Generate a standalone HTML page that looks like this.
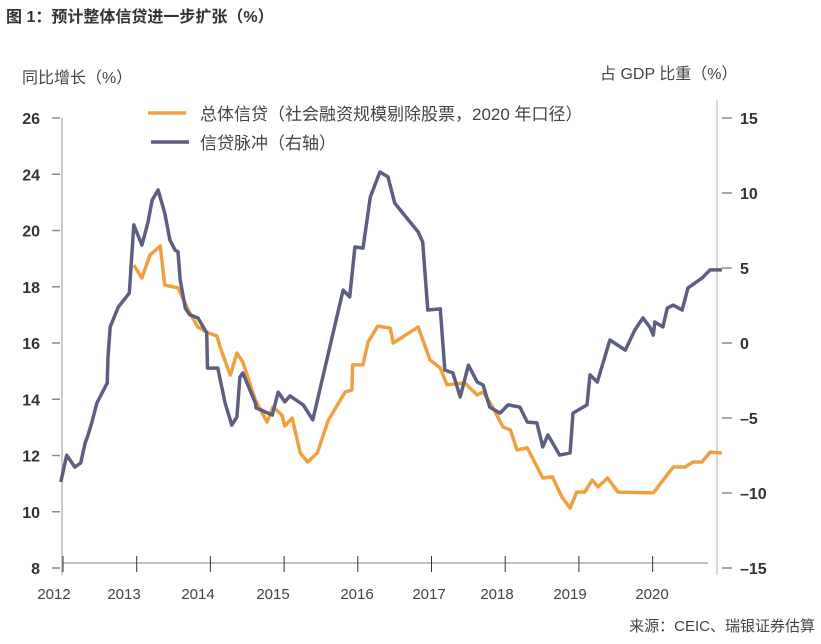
<!DOCTYPE html>
<html><head><meta charset="utf-8"><style>
body{margin:0;background:#fff;}
svg text{font-family:"Liberation Sans","Noto Sans CJK SC",sans-serif;}
</style></head><body>
<svg id="chart" width="821" height="639" viewBox="0 0 821 639" xmlns="http://www.w3.org/2000/svg">
<text x="6" y="22" font-size="16" font-weight="bold" fill="#333">图 1：预计整体信贷进一步扩张（%）</text>
<text x="22" y="83" font-size="16" fill="#444">同比增长（%）</text>
<text x="600" y="79" font-size="16" fill="#444">占 GDP 比重（%）</text>
<g>
<line x1="148" y1="113" x2="186" y2="113" stroke="#f0a040" stroke-width="3.5"/>
<text x="200" y="120" font-size="17" fill="#444">总体信贷（社会融资规模剔除股票，2020 年口径）</text>
<line x1="151" y1="142" x2="189" y2="142" stroke="#5c5f80" stroke-width="3.5"/>
<text x="200" y="149" font-size="17" fill="#444">信贷脉冲（右轴）</text>
</g>
<line x1="62" y1="118" x2="62" y2="575" stroke="#bbb" stroke-width="1.5"/>
<line x1="717" y1="100" x2="717" y2="575" stroke="#ccc" stroke-width="1.5"/>
<line x1="62" y1="563" x2="708" y2="563" stroke="#aaa" stroke-width="1.5"/>
<text x="815" y="631" font-size="15" fill="#444" text-anchor="end">来源：CEIC、瑞银证券估算</text>
<g id="axes"></g>
<g id="series"></g>
</svg>
<script>
const leftTicks = [8, 10, 12, 14, 16, 18, 20, 24, 26];
const rightTicks = [-15, -10, -5, 0, 5, 10, 15];
const years = [2012, 2013, 2014, 2015, 2016, 2017, 2018, 2019, 2020];
const totalCreditDates = [2012.96,2013.07,2013.18,2013.32,2013.38,2013.56,2013.70,2013.83,2013.97,2014.09,2014.13,2014.27,2014.36,2014.44,2014.61,2014.77,2014.85,2014.97,2015.01,2015.11,2015.22,2015.32,2015.45,2015.60,2015.83,2015.92,2015.93,2016.07,2016.14,2016.27,2016.44,2016.48,2016.82,2016.98,2017.12,2017.21,2017.45,2017.62,2017.70,2017.83,2017.97,2018.07,2018.16,2018.30,2018.51,2018.64,2018.77,2018.88,2018.97,2019.08,2019.18,2019.26,2019.39,2019.53,2020.01,2020.28,2020.44,2020.55,2020.67,2020.78,2020.94];
const totalCreditValues = [18.77,18.31,19.13,19.45,18.06,17.96,17.17,16.57,16.36,16.25,15.86,14.86,15.64,15.32,13.97,13.19,13.72,13.44,13.05,13.33,12.09,11.77,12.09,13.26,14.26,14.33,15.22,15.22,16.04,16.6,16.53,16.0,16.57,15.4,15.11,14.51,14.58,14.15,14.26,13.72,13.01,12.91,12.2,12.27,11.2,11.24,10.52,10.13,10.7,10.7,11.13,10.88,11.2,10.7,10.67,11.59,11.59,11.77,11.77,12.12,12.09];
const impulseDates = [2011.97,2012.05,2012.16,2012.24,2012.30,2012.34,2012.39,2012.46,2012.60,2012.61,2012.64,2012.75,2012.90,2012.96,2013.07,2013.15,2013.21,2013.29,2013.38,2013.45,2013.52,2013.56,2013.59,2013.66,2013.72,2013.83,2013.95,2013.96,2014.10,2014.20,2014.29,2014.36,2014.40,2014.44,2014.61,2014.62,2014.84,2014.92,2015.01,2015.08,2015.26,2015.39,2015.80,2015.89,2015.96,2016.07,2016.17,2016.30,2016.41,2016.50,2016.82,2016.88,2016.95,2017.12,2017.18,2017.29,2017.39,2017.50,2017.62,2017.70,2017.79,2017.93,2018.04,2018.20,2018.30,2018.43,2018.51,2018.58,2018.74,2018.88,2018.92,2019.11,2019.15,2019.25,2019.42,2019.63,2019.76,2019.87,2019.96,2020.01,2020.03,2020.14,2020.20,2020.28,2020.40,2020.48,2020.67,2020.78,2020.94];
const impulseValues = [-9.27,-7.47,-8.27,-8.0,-6.67,-6.13,-5.33,-4.0,-2.67,-0.93,1.07,2.4,3.33,7.87,6.53,8.0,9.53,10.2,8.67,6.87,6.2,6.07,4.2,2.33,1.87,1.67,0.67,-1.67,-1.67,-4.0,-5.47,-4.93,-2.27,-2.0,-4.0,-4.33,-4.8,-3.27,-3.93,-3.53,-4.13,-5.13,3.53,3.07,6.4,6.33,9.73,11.4,11.07,9.33,7.4,6.73,2.2,2.27,-1.8,-2.0,-3.6,-1.47,-2.6,-2.8,-4.27,-4.67,-4.13,-4.27,-5.27,-5.33,-6.93,-6.13,-7.47,-7.33,-4.67,-4.13,-2.13,-2.6,0.2,-0.47,0.87,1.67,1.07,0.53,1.4,1.07,2.33,2.53,2.2,3.67,4.33,4.87,4.87];

const NS = 'http://www.w3.org/2000/svg';
function xScale(t){ return 63 + (t - 2012) * 73.7; }
function yLeft(v){ return 568 - (v - 8) * 28.125; }
function yLeftTick(i){ return 568 - i * 56.25; }
function yRight(v){ return 343 - v * 15; }
function mk(tag, attrs, parent){ const e = document.createElementNS(NS, tag); for (const k in attrs) e.setAttribute(k, attrs[k]); parent.appendChild(e); return e; }
const axes = document.getElementById('axes');
const series = document.getElementById('series');
const yearLabelX = [54,124,198,273,357,429,497,570,652];

leftTicks.forEach((v, i) => {
  const y = yLeftTick(i);
  const tk = mk('line', {x1:52, y1:y, x2:60, y2:y, stroke:'#888', 'stroke-width':1.5}, axes);
  
  
  const tx = mk('text', {x:40, y:y+6, 'font-size':16, 'font-weight':'bold', fill:'#333', 'text-anchor':'end'}, axes);
  tx.textContent = v;
  
  
});
rightTicks.forEach(v => {
  const y = yRight(v);
  const tk = mk('line', {x1:722, y1:y, x2:732, y2:y, stroke:'#888', 'stroke-width':1.5}, axes);
  
  
  const tx = mk('text', {x:740, y:y+6, 'font-size':16, 'font-weight':'bold', fill:'#333'}, axes);
  tx.textContent = v < 0 ? '\u2013' + Math.abs(v) : v;
  
  
});
years.forEach((yr, i) => {
  const x = xScale(yr);
  const tk = mk('line', {x1:x, y1:556, x2:x, y2:572, stroke:'#333', 'stroke-width':1}, axes);
  
  
  const tx = mk('text', {x:yearLabelX[i], y:599, 'font-size':15, fill:'#444', 'text-anchor':'middle'}, axes);
  tx.textContent = yr;
  
  
});

const p1 = totalCreditDates.map((t, i) => xScale(t).toFixed(1) + ',' + yLeft(totalCreditValues[i]).toFixed(1)).join(' ');
const l1 = mk('polyline', {points:p1, fill:'none', stroke:'#f0a040', 'stroke-width':3.5, 'stroke-linejoin':'round'}, series);


const p2 = impulseDates.map((t, i) => xScale(t).toFixed(1) + ',' + yRight(impulseValues[i]).toFixed(1)).join(' ');
const l2 = mk('polyline', {points:p2, fill:'none', stroke:'#5c5f80', 'stroke-width':3.5, 'stroke-linejoin':'round'}, series);


</script>
</body></html>
